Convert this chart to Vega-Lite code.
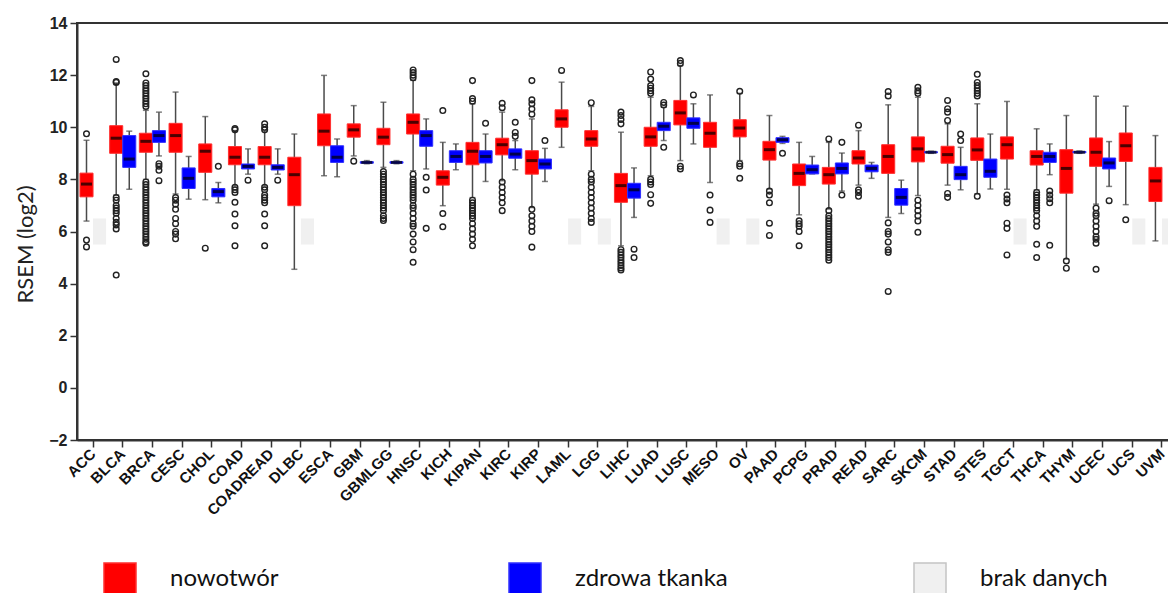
{
"$schema": "https://vega.github.io/schema/vega-lite/v6.json",
"width": 1101, "height": 417,
"autosize": {"type": "none"},
"padding": {"left": 77, "top": 23, "right": -10, "bottom": 153},
"background": "white",
"config": {
  "view": {"stroke": "#333", "strokeWidth": 2},
  "axis": {"grid": false, "domainColor": "#333", "domainWidth": 2, "tickColor": "#333", "tickWidth": 1.5, "tickSize": 7}
},
"datasets": {
"na": [
{"t":"ACC","g":"N","k":"brak danych","lo":5.5,"hi":6.5},
{"t":"DLBC","g":"N","k":"brak danych","lo":5.5,"hi":6.5},
{"t":"LAML","g":"N","k":"brak danych","lo":5.5,"hi":6.5},
{"t":"LGG","g":"N","k":"brak danych","lo":5.5,"hi":6.5},
{"t":"MESO","g":"N","k":"brak danych","lo":5.5,"hi":6.5},
{"t":"OV","g":"N","k":"brak danych","lo":5.5,"hi":6.5},
{"t":"TGCT","g":"N","k":"brak danych","lo":5.5,"hi":6.5},
{"t":"UCS","g":"N","k":"brak danych","lo":5.5,"hi":6.5},
{"t":"UVM","g":"N","k":"brak danych","lo":5.5,"hi":6.5}
],
"box": [
{"t":"ACC","g":"T","k":"nowotwór","lo":6.4,"q1":7.33,"med":7.82,"q3":8.24,"hi":9.5},
{"t":"BLCA","g":"T","k":"nowotwór","lo":7.4,"q1":9.0,"med":9.58,"q3":10.06,"hi":11.7},
{"t":"BLCA","g":"N","k":"zdrowa tkanka","lo":7.62,"q1":8.46,"med":8.78,"q3":9.68,"hi":9.85},
{"t":"BRCA","g":"T","k":"nowotwór","lo":8.0,"q1":9.04,"med":9.46,"q3":9.77,"hi":10.65},
{"t":"BRCA","g":"N","k":"zdrowa tkanka","lo":8.9,"q1":9.42,"med":9.68,"q3":9.87,"hi":10.58},
{"t":"CESC","g":"T","k":"nowotwór","lo":7.44,"q1":9.04,"med":9.68,"q3":10.15,"hi":11.35},
{"t":"CESC","g":"N","k":"zdrowa tkanka","lo":7.24,"q1":7.65,"med":8.04,"q3":8.44,"hi":8.88},
{"t":"CHOL","g":"T","k":"nowotwór","lo":7.22,"q1":8.27,"med":9.08,"q3":9.36,"hi":10.41},
{"t":"CHOL","g":"N","k":"zdrowa tkanka","lo":7.1,"q1":7.33,"med":7.53,"q3":7.65,"hi":7.88},
{"t":"COAD","g":"T","k":"nowotwór","lo":7.76,"q1":8.56,"med":8.85,"q3":9.26,"hi":9.87},
{"t":"COAD","g":"N","k":"zdrowa tkanka","lo":8.2,"q1":8.4,"med":8.5,"q3":8.59,"hi":9.17},
{"t":"COADREAD","g":"T","k":"nowotwór","lo":7.76,"q1":8.56,"med":8.85,"q3":9.26,"hi":9.87},
{"t":"COADREAD","g":"N","k":"zdrowa tkanka","lo":8.2,"q1":8.36,"med":8.46,"q3":8.56,"hi":9.17},
{"t":"DLBC","g":"T","k":"nowotwór","lo":4.55,"q1":6.99,"med":8.18,"q3":8.85,"hi":9.74},
{"t":"ESCA","g":"T","k":"nowotwór","lo":8.14,"q1":9.29,"med":9.85,"q3":10.51,"hi":11.99},
{"t":"ESCA","g":"N","k":"zdrowa tkanka","lo":8.1,"q1":8.65,"med":8.85,"q3":9.29,"hi":9.55},
{"t":"GBM","g":"T","k":"nowotwór","lo":8.9,"q1":9.62,"med":9.9,"q3":10.13,"hi":10.83},
{"t":"GBM","g":"N","k":"zdrowa tkanka","lo":8.6,"q1":8.62,"med":8.65,"q3":8.68,"hi":8.72},
{"t":"GBMLGG","g":"T","k":"nowotwór","lo":8.46,"q1":9.33,"med":9.62,"q3":9.96,"hi":10.96},
{"t":"GBMLGG","g":"N","k":"zdrowa tkanka","lo":8.6,"q1":8.62,"med":8.65,"q3":8.68,"hi":8.72},
{"t":"HNSC","g":"T","k":"nowotwór","lo":8.33,"q1":9.74,"med":10.19,"q3":10.51,"hi":11.8},
{"t":"HNSC","g":"N","k":"zdrowa tkanka","lo":8.4,"q1":9.27,"med":9.68,"q3":9.87,"hi":10.32},
{"t":"KICH","g":"T","k":"nowotwór","lo":6.99,"q1":7.78,"med":8.08,"q3":8.33,"hi":9.42},
{"t":"KICH","g":"N","k":"zdrowa tkanka","lo":8.37,"q1":8.65,"med":8.88,"q3":9.1,"hi":9.36},
{"t":"KIPAN","g":"T","k":"nowotwór","lo":7.3,"q1":8.56,"med":9.08,"q3":9.42,"hi":10.9},
{"t":"KIPAN","g":"N","k":"zdrowa tkanka","lo":7.92,"q1":8.63,"med":8.88,"q3":9.1,"hi":9.74},
{"t":"KIRC","g":"T","k":"nowotwór","lo":7.95,"q1":8.94,"med":9.33,"q3":9.58,"hi":10.58},
{"t":"KIRC","g":"N","k":"zdrowa tkanka","lo":8.37,"q1":8.81,"med":8.97,"q3":9.17,"hi":9.49},
{"t":"KIRP","g":"T","k":"nowotwór","lo":6.92,"q1":8.2,"med":8.72,"q3":9.1,"hi":10.32},
{"t":"KIRP","g":"N","k":"zdrowa tkanka","lo":7.92,"q1":8.4,"med":8.59,"q3":8.78,"hi":9.19},
{"t":"LAML","g":"T","k":"nowotwór","lo":9.23,"q1":10.0,"med":10.32,"q3":10.67,"hi":11.73},
{"t":"LGG","g":"T","k":"nowotwór","lo":8.33,"q1":9.27,"med":9.55,"q3":9.87,"hi":10.8},
{"t":"LIHC","g":"T","k":"nowotwór","lo":5.45,"q1":7.12,"med":7.76,"q3":8.23,"hi":9.81},
{"t":"LIHC","g":"N","k":"zdrowa tkanka","lo":6.54,"q1":7.28,"med":7.6,"q3":7.85,"hi":8.44},
{"t":"LUAD","g":"T","k":"nowotwór","lo":8.14,"q1":9.27,"med":9.63,"q3":10.0,"hi":11.15},
{"t":"LUAD","g":"N","k":"zdrowa tkanka","lo":9.49,"q1":9.87,"med":10.04,"q3":10.19,"hi":10.77},
{"t":"LUSC","g":"T","k":"nowotwór","lo":8.72,"q1":10.09,"med":10.55,"q3":11.03,"hi":12.37},
{"t":"LUSC","g":"N","k":"zdrowa tkanka","lo":9.36,"q1":9.96,"med":10.15,"q3":10.36,"hi":10.9},
{"t":"MESO","g":"T","k":"nowotwór","lo":7.88,"q1":9.23,"med":9.77,"q3":10.19,"hi":11.24},
{"t":"OV","g":"T","k":"nowotwór","lo":8.72,"q1":9.63,"med":9.97,"q3":10.29,"hi":11.3},
{"t":"PAAD","g":"T","k":"nowotwór","lo":7.63,"q1":8.74,"med":9.14,"q3":9.46,"hi":10.45},
{"t":"PAAD","g":"N","k":"zdrowa tkanka","lo":9.38,"q1":9.42,"med":9.52,"q3":9.6,"hi":9.65},
{"t":"PCPG","g":"T","k":"nowotwór","lo":6.64,"q1":7.76,"med":8.23,"q3":8.59,"hi":9.42},
{"t":"PCPG","g":"N","k":"zdrowa tkanka","lo":8.21,"q1":8.21,"med":8.37,"q3":8.55,"hi":8.88},
{"t":"PRAD","g":"T","k":"nowotwór","lo":6.86,"q1":7.82,"med":8.18,"q3":8.46,"hi":9.42},
{"t":"PRAD","g":"N","k":"zdrowa tkanka","lo":7.55,"q1":8.21,"med":8.42,"q3":8.63,"hi":9.01},
{"t":"READ","g":"T","k":"nowotwór","lo":7.78,"q1":8.59,"med":8.82,"q3":9.1,"hi":9.87},
{"t":"READ","g":"N","k":"zdrowa tkanka","lo":8.04,"q1":8.29,"med":8.42,"q3":8.55,"hi":8.65},
{"t":"SARC","g":"T","k":"nowotwór","lo":6.54,"q1":8.23,"med":8.88,"q3":9.33,"hi":10.86},
{"t":"SARC","g":"N","k":"zdrowa tkanka","lo":6.69,"q1":7.01,"med":7.31,"q3":7.65,"hi":7.97},
{"t":"SKCM","g":"T","k":"nowotwór","lo":7.38,"q1":8.67,"med":9.17,"q3":9.63,"hi":11.15},
{"t":"SKCM","g":"N","k":"zdrowa tkanka","lo":9.0,"q1":9.02,"med":9.04,"q3":9.06,"hi":9.08},
{"t":"STAD","g":"T","k":"nowotwór","lo":7.78,"q1":8.62,"med":8.95,"q3":9.27,"hi":10.13},
{"t":"STAD","g":"N","k":"zdrowa tkanka","lo":7.6,"q1":7.99,"med":8.18,"q3":8.5,"hi":9.23},
{"t":"STES","g":"T","k":"nowotwór","lo":7.45,"q1":8.73,"med":9.13,"q3":9.59,"hi":10.9},
{"t":"STES","g":"N","k":"zdrowa tkanka","lo":7.63,"q1":8.08,"med":8.31,"q3":8.78,"hi":9.74},
{"t":"TGCT","g":"T","k":"nowotwór","lo":7.62,"q1":8.78,"med":9.33,"q3":9.63,"hi":10.99},
{"t":"THCA","g":"T","k":"nowotwór","lo":7.6,"q1":8.55,"med":8.88,"q3":9.1,"hi":9.94},
{"t":"THCA","g":"N","k":"zdrowa tkanka","lo":8.18,"q1":8.65,"med":8.88,"q3":9.04,"hi":9.36},
{"t":"THYM","g":"T","k":"nowotwór","lo":4.94,"q1":7.47,"med":8.42,"q3":9.14,"hi":10.45},
{"t":"THYM","g":"N","k":"zdrowa tkanka","lo":9.0,"q1":9.02,"med":9.04,"q3":9.07,"hi":9.09},
{"t":"UCEC","g":"T","k":"nowotwór","lo":7.05,"q1":8.5,"med":9.04,"q3":9.59,"hi":11.19},
{"t":"UCEC","g":"N","k":"zdrowa tkanka","lo":7.73,"q1":8.4,"med":8.63,"q3":8.82,"hi":9.45},
{"t":"UCS","g":"T","k":"nowotwór","lo":7.03,"q1":8.69,"med":9.29,"q3":9.78,"hi":10.81},
{"t":"UVM","g":"T","k":"nowotwór","lo":5.64,"q1":7.15,"med":7.94,"q3":8.46,"hi":9.68}
],
"out": [
{"t":"ACC","g":"T","v":9.75},{"t":"ACC","g":"T","v":5.67},{"t":"ACC","g":"T","v":5.41},
{"t":"BLCA","g":"T","v":12.6},{"t":"BLCA","g":"T","v":11.75},{"t":"BLCA","g":"T","v":11.72},{"t":"BLCA","g":"T","v":7.3},{"t":"BLCA","g":"T","v":7.2},{"t":"BLCA","g":"T","v":7.0},{"t":"BLCA","g":"T","v":6.9},{"t":"BLCA","g":"T","v":6.8},{"t":"BLCA","g":"T","v":6.7},{"t":"BLCA","g":"T","v":6.5},{"t":"BLCA","g":"T","v":6.35},{"t":"BLCA","g":"T","v":6.25},{"t":"BLCA","g":"T","v":6.1},{"t":"BLCA","g":"T","v":4.33},
{"t":"BRCA","g":"T","v":12.05},{"t":"BRCA","g":"T","v":11.7},{"t":"BRCA","g":"T","v":11.6},{"t":"BRCA","g":"T","v":11.5},{"t":"BRCA","g":"T","v":11.4},{"t":"BRCA","g":"T","v":11.3},{"t":"BRCA","g":"T","v":11.2},{"t":"BRCA","g":"T","v":11.1},{"t":"BRCA","g":"T","v":11.0},{"t":"BRCA","g":"T","v":10.9},{"t":"BRCA","g":"T","v":10.8},{"t":"BRCA","g":"T","v":7.9},{"t":"BRCA","g":"T","v":7.8},{"t":"BRCA","g":"T","v":7.7},{"t":"BRCA","g":"T","v":7.6},{"t":"BRCA","g":"T","v":7.5},{"t":"BRCA","g":"T","v":7.4},{"t":"BRCA","g":"T","v":7.3},{"t":"BRCA","g":"T","v":7.2},{"t":"BRCA","g":"T","v":7.1},{"t":"BRCA","g":"T","v":7.0},{"t":"BRCA","g":"T","v":6.9},{"t":"BRCA","g":"T","v":6.8},{"t":"BRCA","g":"T","v":6.7},{"t":"BRCA","g":"T","v":6.6},{"t":"BRCA","g":"T","v":6.5},{"t":"BRCA","g":"T","v":6.4},{"t":"BRCA","g":"T","v":6.3},{"t":"BRCA","g":"T","v":6.2},{"t":"BRCA","g":"T","v":6.1},{"t":"BRCA","g":"T","v":6.0},{"t":"BRCA","g":"T","v":5.9},{"t":"BRCA","g":"T","v":5.8},{"t":"BRCA","g":"T","v":5.7},{"t":"BRCA","g":"T","v":5.6},{"t":"BRCA","g":"T","v":5.55},
{"t":"BRCA","g":"N","v":8.6},{"t":"BRCA","g":"N","v":8.5},{"t":"BRCA","g":"N","v":8.35},{"t":"BRCA","g":"N","v":7.95},
{"t":"CESC","g":"T","v":7.3},{"t":"CESC","g":"T","v":7.2},{"t":"CESC","g":"T","v":7.05},{"t":"CESC","g":"T","v":6.85},{"t":"CESC","g":"T","v":6.5},{"t":"CESC","g":"T","v":6.3},{"t":"CESC","g":"T","v":6.0},{"t":"CESC","g":"T","v":5.9},{"t":"CESC","g":"T","v":5.72},
{"t":"CHOL","g":"T","v":5.36},{"t":"CHOL","g":"N","v":8.5},
{"t":"COAD","g":"T","v":9.95},{"t":"COAD","g":"T","v":9.9},{"t":"COAD","g":"T","v":7.7},{"t":"COAD","g":"T","v":7.6},{"t":"COAD","g":"T","v":7.5},{"t":"COAD","g":"T","v":7.12},{"t":"COAD","g":"T","v":6.67},{"t":"COAD","g":"T","v":6.22},{"t":"COAD","g":"T","v":5.45},
{"t":"COAD","g":"N","v":7.97},
{"t":"COADREAD","g":"T","v":10.13},{"t":"COADREAD","g":"T","v":10.0},{"t":"COADREAD","g":"T","v":9.9},{"t":"COADREAD","g":"T","v":7.7},{"t":"COADREAD","g":"T","v":7.6},{"t":"COADREAD","g":"T","v":7.4},{"t":"COADREAD","g":"T","v":7.3},{"t":"COADREAD","g":"T","v":7.2},{"t":"COADREAD","g":"T","v":7.1},{"t":"COADREAD","g":"T","v":6.67},{"t":"COADREAD","g":"T","v":6.22},{"t":"COADREAD","g":"T","v":5.45},
{"t":"COADREAD","g":"N","v":7.97},
{"t":"GBM","g":"T","v":8.7},
{"t":"GBMLGG","g":"T","v":8.3},{"t":"GBMLGG","g":"T","v":8.2},{"t":"GBMLGG","g":"T","v":8.1},{"t":"GBMLGG","g":"T","v":8.0},{"t":"GBMLGG","g":"T","v":7.9},{"t":"GBMLGG","g":"T","v":7.8},{"t":"GBMLGG","g":"T","v":7.7},{"t":"GBMLGG","g":"T","v":7.6},{"t":"GBMLGG","g":"T","v":7.5},{"t":"GBMLGG","g":"T","v":7.4},{"t":"GBMLGG","g":"T","v":7.3},{"t":"GBMLGG","g":"T","v":7.2},{"t":"GBMLGG","g":"T","v":7.1},{"t":"GBMLGG","g":"T","v":7.0},{"t":"GBMLGG","g":"T","v":6.9},{"t":"GBMLGG","g":"T","v":6.8},{"t":"GBMLGG","g":"T","v":6.6},{"t":"GBMLGG","g":"T","v":6.5},{"t":"GBMLGG","g":"T","v":6.42},
{"t":"HNSC","g":"T","v":12.2},{"t":"HNSC","g":"T","v":12.1},{"t":"HNSC","g":"T","v":12.0},{"t":"HNSC","g":"T","v":11.9},{"t":"HNSC","g":"T","v":8.2},{"t":"HNSC","g":"T","v":8.0},{"t":"HNSC","g":"T","v":7.9},{"t":"HNSC","g":"T","v":7.8},{"t":"HNSC","g":"T","v":7.7},{"t":"HNSC","g":"T","v":7.6},{"t":"HNSC","g":"T","v":7.5},{"t":"HNSC","g":"T","v":7.4},{"t":"HNSC","g":"T","v":7.3},{"t":"HNSC","g":"T","v":7.2},{"t":"HNSC","g":"T","v":7.0},{"t":"HNSC","g":"T","v":6.9},{"t":"HNSC","g":"T","v":6.7},{"t":"HNSC","g":"T","v":6.5},{"t":"HNSC","g":"T","v":6.3},{"t":"HNSC","g":"T","v":6.2},{"t":"HNSC","g":"T","v":5.9},{"t":"HNSC","g":"T","v":5.6},{"t":"HNSC","g":"T","v":5.3},{"t":"HNSC","g":"T","v":4.82},
{"t":"HNSC","g":"N","v":8.08},{"t":"HNSC","g":"N","v":7.59},{"t":"HNSC","g":"N","v":6.12},
{"t":"KICH","g":"T","v":10.64},{"t":"KICH","g":"T","v":6.69},{"t":"KICH","g":"T","v":6.18},
{"t":"KIPAN","g":"T","v":11.79},{"t":"KIPAN","g":"T","v":11.1},{"t":"KIPAN","g":"T","v":11.0},{"t":"KIPAN","g":"T","v":7.2},{"t":"KIPAN","g":"T","v":7.1},{"t":"KIPAN","g":"T","v":7.0},{"t":"KIPAN","g":"T","v":6.9},{"t":"KIPAN","g":"T","v":6.8},{"t":"KIPAN","g":"T","v":6.7},{"t":"KIPAN","g":"T","v":6.6},{"t":"KIPAN","g":"T","v":6.5},{"t":"KIPAN","g":"T","v":6.3},{"t":"KIPAN","g":"T","v":6.1},{"t":"KIPAN","g":"T","v":5.9},{"t":"KIPAN","g":"T","v":5.7},{"t":"KIPAN","g":"T","v":5.45},
{"t":"KIPAN","g":"N","v":10.15},
{"t":"KIRC","g":"T","v":10.92},{"t":"KIRC","g":"T","v":10.75},{"t":"KIRC","g":"T","v":7.9},{"t":"KIRC","g":"T","v":7.7},{"t":"KIRC","g":"T","v":7.5},{"t":"KIRC","g":"T","v":7.3},{"t":"KIRC","g":"T","v":7.1},{"t":"KIRC","g":"T","v":6.8},
{"t":"KIRC","g":"N","v":10.19},{"t":"KIRC","g":"N","v":9.8},{"t":"KIRC","g":"N","v":9.65},
{"t":"KIRP","g":"T","v":11.79},{"t":"KIRP","g":"T","v":11.05},{"t":"KIRP","g":"T","v":10.9},{"t":"KIRP","g":"T","v":10.7},{"t":"KIRP","g":"T","v":10.5},{"t":"KIRP","g":"T","v":6.85},{"t":"KIRP","g":"T","v":6.6},{"t":"KIRP","g":"T","v":6.4},{"t":"KIRP","g":"T","v":6.2},{"t":"KIRP","g":"T","v":6.0},{"t":"KIRP","g":"T","v":5.4},
{"t":"KIRP","g":"N","v":9.49},
{"t":"LAML","g":"T","v":12.18},
{"t":"LGG","g":"T","v":10.94},{"t":"LGG","g":"T","v":8.2},{"t":"LGG","g":"T","v":8.0},{"t":"LGG","g":"T","v":7.9},{"t":"LGG","g":"T","v":7.7},{"t":"LGG","g":"T","v":7.5},{"t":"LGG","g":"T","v":7.3},{"t":"LGG","g":"T","v":7.1},{"t":"LGG","g":"T","v":6.9},{"t":"LGG","g":"T","v":6.7},{"t":"LGG","g":"T","v":6.5},{"t":"LGG","g":"T","v":6.35},
{"t":"LIHC","g":"T","v":10.58},{"t":"LIHC","g":"T","v":10.45},{"t":"LIHC","g":"T","v":10.3},{"t":"LIHC","g":"T","v":10.13},{"t":"LIHC","g":"T","v":5.3},{"t":"LIHC","g":"T","v":5.2},{"t":"LIHC","g":"T","v":5.1},{"t":"LIHC","g":"T","v":5.0},{"t":"LIHC","g":"T","v":4.9},{"t":"LIHC","g":"T","v":4.8},{"t":"LIHC","g":"T","v":4.7},{"t":"LIHC","g":"T","v":4.6},{"t":"LIHC","g":"T","v":4.52},
{"t":"LIHC","g":"N","v":5.32},{"t":"LIHC","g":"N","v":5.0},
{"t":"LUAD","g":"T","v":12.12},{"t":"LUAD","g":"T","v":11.85},{"t":"LUAD","g":"T","v":11.6},{"t":"LUAD","g":"T","v":11.5},{"t":"LUAD","g":"T","v":11.4},{"t":"LUAD","g":"T","v":11.3},{"t":"LUAD","g":"T","v":8.0},{"t":"LUAD","g":"T","v":7.9},{"t":"LUAD","g":"T","v":7.8},{"t":"LUAD","g":"T","v":7.41},{"t":"LUAD","g":"T","v":7.08},
{"t":"LUAD","g":"N","v":10.95},{"t":"LUAD","g":"N","v":10.85},{"t":"LUAD","g":"N","v":9.23},
{"t":"LUSC","g":"T","v":12.56},{"t":"LUSC","g":"T","v":12.45},{"t":"LUSC","g":"T","v":8.5},{"t":"LUSC","g":"T","v":8.4},
{"t":"LUSC","g":"N","v":11.24},
{"t":"MESO","g":"T","v":7.4},{"t":"MESO","g":"T","v":6.82},{"t":"MESO","g":"T","v":6.35},
{"t":"OV","g":"T","v":11.38},{"t":"OV","g":"T","v":8.6},{"t":"OV","g":"T","v":8.5},{"t":"OV","g":"T","v":8.04},
{"t":"PAAD","g":"T","v":7.55},{"t":"PAAD","g":"T","v":7.4},{"t":"PAAD","g":"T","v":7.1},{"t":"PAAD","g":"T","v":6.32},{"t":"PAAD","g":"T","v":5.85},
{"t":"PAAD","g":"N","v":9.0},
{"t":"PCPG","g":"T","v":6.41},{"t":"PCPG","g":"T","v":6.3},{"t":"PCPG","g":"T","v":6.2},{"t":"PCPG","g":"T","v":6.0},{"t":"PCPG","g":"T","v":5.45},
{"t":"PRAD","g":"T","v":9.55},{"t":"PRAD","g":"T","v":6.8},{"t":"PRAD","g":"T","v":6.6},{"t":"PRAD","g":"T","v":6.5},{"t":"PRAD","g":"T","v":6.4},{"t":"PRAD","g":"T","v":6.3},{"t":"PRAD","g":"T","v":6.2},{"t":"PRAD","g":"T","v":6.1},{"t":"PRAD","g":"T","v":6.0},{"t":"PRAD","g":"T","v":5.9},{"t":"PRAD","g":"T","v":5.8},{"t":"PRAD","g":"T","v":5.7},{"t":"PRAD","g":"T","v":5.6},{"t":"PRAD","g":"T","v":5.5},{"t":"PRAD","g":"T","v":5.4},{"t":"PRAD","g":"T","v":5.3},{"t":"PRAD","g":"T","v":5.2},{"t":"PRAD","g":"T","v":5.1},{"t":"PRAD","g":"T","v":5.0},{"t":"PRAD","g":"T","v":4.9},
{"t":"PRAD","g":"N","v":9.42},{"t":"PRAD","g":"N","v":7.4},
{"t":"READ","g":"T","v":10.08},{"t":"READ","g":"T","v":7.6},{"t":"READ","g":"T","v":7.5},{"t":"READ","g":"T","v":7.35},
{"t":"SARC","g":"T","v":11.37},{"t":"SARC","g":"T","v":11.2},{"t":"SARC","g":"T","v":6.33},{"t":"SARC","g":"T","v":6.0},{"t":"SARC","g":"T","v":5.9},{"t":"SARC","g":"T","v":5.6},{"t":"SARC","g":"T","v":5.3},{"t":"SARC","g":"T","v":5.2},{"t":"SARC","g":"T","v":3.7},
{"t":"SKCM","g":"T","v":11.53},{"t":"SKCM","g":"T","v":11.4},{"t":"SKCM","g":"T","v":11.3},{"t":"SKCM","g":"T","v":7.2},{"t":"SKCM","g":"T","v":7.0},{"t":"SKCM","g":"T","v":6.8},{"t":"SKCM","g":"T","v":6.6},{"t":"SKCM","g":"T","v":6.4},{"t":"SKCM","g":"T","v":5.97},
{"t":"STAD","g":"T","v":11.03},{"t":"STAD","g":"T","v":10.71},{"t":"STAD","g":"T","v":10.58},{"t":"STAD","g":"T","v":10.26},{"t":"STAD","g":"T","v":7.46},{"t":"STAD","g":"T","v":7.31},
{"t":"STAD","g":"N","v":9.74},{"t":"STAD","g":"N","v":9.49},
{"t":"STES","g":"T","v":12.03},{"t":"STES","g":"T","v":11.72},{"t":"STES","g":"T","v":11.6},{"t":"STES","g":"T","v":11.5},{"t":"STES","g":"T","v":11.4},{"t":"STES","g":"T","v":11.3},{"t":"STES","g":"T","v":11.2},{"t":"STES","g":"T","v":7.35},
{"t":"TGCT","g":"T","v":7.4},{"t":"TGCT","g":"T","v":7.25},{"t":"TGCT","g":"T","v":7.1},{"t":"TGCT","g":"T","v":6.32},{"t":"TGCT","g":"T","v":6.12},{"t":"TGCT","g":"T","v":5.1},
{"t":"THCA","g":"T","v":7.5},{"t":"THCA","g":"T","v":7.4},{"t":"THCA","g":"T","v":7.3},{"t":"THCA","g":"T","v":7.2},{"t":"THCA","g":"T","v":7.1},{"t":"THCA","g":"T","v":7.0},{"t":"THCA","g":"T","v":6.9},{"t":"THCA","g":"T","v":6.8},{"t":"THCA","g":"T","v":6.6},{"t":"THCA","g":"T","v":6.4},{"t":"THCA","g":"T","v":6.2},{"t":"THCA","g":"T","v":5.51},{"t":"THCA","g":"T","v":5.0},
{"t":"THCA","g":"N","v":7.55},{"t":"THCA","g":"N","v":7.4},{"t":"THCA","g":"N","v":7.26},{"t":"THCA","g":"N","v":7.1},{"t":"THCA","g":"N","v":5.47},
{"t":"THYM","g":"T","v":4.87},{"t":"THYM","g":"T","v":4.59},
{"t":"UCEC","g":"T","v":6.9},{"t":"UCEC","g":"T","v":6.7},{"t":"UCEC","g":"T","v":6.6},{"t":"UCEC","g":"T","v":6.4},{"t":"UCEC","g":"T","v":6.2},{"t":"UCEC","g":"T","v":6.0},{"t":"UCEC","g":"T","v":5.8},{"t":"UCEC","g":"T","v":5.7},{"t":"UCEC","g":"T","v":5.55},{"t":"UCEC","g":"T","v":4.55},
{"t":"UCEC","g":"N","v":7.18},
{"t":"UCS","g":"T","v":6.45}
]
},
"encoding": {
  "x": {"field": "t", "type": "nominal", "title": null,
    "scale": {"domain": ["ACC","BLCA","BRCA","CESC","CHOL","COAD","COADREAD","DLBC","ESCA","GBM","GBMLGG","HNSC","KICH","KIPAN","KIRC","KIRP","LAML","LGG","LIHC","LUAD","LUSC","MESO","OV","PAAD","PCPG","PRAD","READ","SARC","SKCM","STAD","STES","TGCT","THCA","THYM","UCEC","UCS","UVM"], "paddingInner": 0.12, "paddingOuter": 0.1},
    "axis": {"labelAngle": -45, "labelAlign": "right", "labelBaseline": "middle", "labelFont": "Liberation Sans", "labelFontSize": 15, "labelFontWeight": "bold", "labelColor": "#111", "labelPadding": 4}},
  "xOffset": {"field": "g", "type": "nominal", "scale": {"domain": ["T","N"], "paddingInner": 0, "paddingOuter": 0}}
},
"layer": [
  {"data": {"name": "na"}, "mark": {"type": "bar", "strokeWidth": 0},
   "encoding": {
     "y": {"field": "lo", "type": "quantitative", "scale": {"domain": [-2, 14], "nice": false, "zero": false},
       "axis": {"values": [-2,0,2,4,6,8,10,12,14], "title": "RSEM (log2)", "titleFont": "Lato", "titleFontSize": 22, "titleFontWeight": "normal", "titleColor": "#222", "titleX": -40, "titleY": 221, "labelFont": "Liberation Sans", "labelFontSize": 16, "labelFontWeight": "bold", "labelColor": "#222", "labelPadding": 3}},
     "y2": {"field": "hi"},
     "fill": {"field": "k", "type": "nominal", "scale": {"domain": ["nowotwór","zdrowa tkanka","brak danych"], "range": ["#ff0000","#0000ff","#f0f0f0"]},
       "legend": {"orient": "none", "legendX": 26, "legendY": 539, "direction": "horizontal", "columns": 3, "title": null, "symbolType": "square", "symbolSize": 1024, "symbolStrokeWidth": 1.5, "symbolOpacity": 1, "labelFont": "Lato", "labelFontSize": 24, "labelColor": "#111", "labelOffset": 33, "columnPadding": 183, "gridAlign": "all", "labelLimit": 300, "padding": 0}},
     "stroke": {"field": "k", "type": "nominal", "scale": {"domain": ["nowotwór","zdrowa tkanka","brak danych"], "range": ["#ff3030","#3030ff","#c4c4c4"]},
       "legend": {"orient": "none", "legendX": 26, "legendY": 539, "direction": "horizontal", "columns": 3, "title": null, "symbolType": "square", "symbolSize": 1024, "symbolStrokeWidth": 1.5, "labelFont": "Lato", "labelFontSize": 24, "labelColor": "#111", "labelOffset": 33, "columnPadding": 183, "gridAlign": "all", "labelLimit": 300, "padding": 0}}
   }},
  {"data": {"name": "box"}, "mark": {"type": "rule", "color": "#4a4a4a", "strokeWidth": 1.5},
   "encoding": {"y": {"field": "lo", "type": "quantitative", "scale": {"domain": [-2, 14], "nice": false, "zero": false}}, "y2": {"field": "hi"}}},
  {"data": {"name": "box"}, "mark": {"type": "tick", "color": "#4a4a4a", "size": 6, "thickness": 1.5},
   "encoding": {"y": {"field": "lo", "type": "quantitative", "scale": {"domain": [-2, 14], "nice": false, "zero": false}}}},
  {"data": {"name": "box"}, "mark": {"type": "tick", "color": "#4a4a4a", "size": 6, "thickness": 1.5},
   "encoding": {"y": {"field": "hi", "type": "quantitative", "scale": {"domain": [-2, 14], "nice": false, "zero": false}}}},
  {"data": {"name": "box"}, "mark": {"type": "bar", "strokeWidth": 1, "opacity": 1},
   "encoding": {
     "y": {"field": "q1", "type": "quantitative", "scale": {"domain": [-2, 14], "nice": false, "zero": false}},
     "y2": {"field": "q3"},
     "fill": {"field": "k", "type": "nominal"},
     "stroke": {"field": "k", "type": "nominal"}
   }},
  {"data": {"name": "box"}, "mark": {"type": "tick", "color": "#000", "size": 11, "thickness": 3},
   "encoding": {"y": {"field": "med", "type": "quantitative", "scale": {"domain": [-2, 14], "nice": false, "zero": false}}}},
  {"data": {"name": "out"}, "mark": {"type": "point", "shape": "circle", "filled": false, "size": 32, "color": "#222", "strokeWidth": 1.4, "opacity": 1},
   "encoding": {"y": {"field": "v", "type": "quantitative", "scale": {"domain": [-2, 14], "nice": false, "zero": false}}}}
]
}
